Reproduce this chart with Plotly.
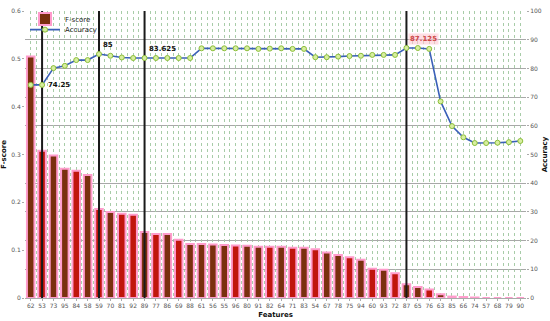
import plotly.graph_objects as go

features = ["62", "53", "73", "95", "84", "58", "59", "70", "81", "92", "89",
            "77", "86", "69", "88", "61", "56", "55", "96", "80", "91", "82",
            "64", "71", "83", "54", "67", "78", "75", "94", "60", "93", "72",
            "87", "65", "76", "63", "85", "66", "74", "57", "68", "79", "90"]

fscore = [0.505, 0.308, 0.298, 0.270, 0.266, 0.257, 0.186, 0.180, 0.176, 0.174, 0.138,
          0.134, 0.134, 0.122, 0.113, 0.113, 0.112, 0.111, 0.110, 0.109, 0.107, 0.107,
          0.107, 0.105, 0.105, 0.102, 0.095, 0.090, 0.085, 0.080, 0.061, 0.059, 0.052,
          0.029, 0.023, 0.018, 0.008, 0.003, 0.002, 0.001, 0.0, 0.0, 0.0, 0.0]

accuracy = [74.25, 74.25, 80.1, 80.9, 82.9, 82.9, 85, 84.4, 83.8, 83.625, 83.625,
            83.625, 83.625, 83.625, 83.625, 87.0, 87.0, 87.0, 87.0, 87.0, 86.8, 86.9,
            87.0, 86.8, 86.8, 83.9, 83.9, 84.1, 84.3, 84.4, 84.7, 84.7, 84.7,
            87.125, 87.1, 86.8, 68.5, 59.9, 56.0, 54.0, 54.0, 54.1, 54.3, 54.7]

marked = ["53", "59", "89", "87"]

BROWN = "#7a300e"
RED = "#c0160c"
bar_cols = [BROWN, RED, BROWN, BROWN, RED, BROWN, RED, BROWN, RED, RED, BROWN,
            RED, BROWN, RED, BROWN, BROWN, BROWN, BROWN, RED, BROWN, BROWN, RED,
            BROWN, RED, BROWN, RED, BROWN, BROWN, RED, BROWN, RED, BROWN, RED,
            BROWN, BROWN, RED, BROWN, BROWN, BROWN, BROWN, BROWN, BROWN, BROWN, BROWN]

pos = list(range(len(features)))
F_RANGE = [0, 0.6]

fig = go.Figure()
fig.add_trace(go.Bar(
    x=pos, y=fscore, name="F-score", yaxis="y", legend="legend",
    marker=dict(color=bar_cols, line=dict(color="#ff9ccc", width=2)),
    width=0.66,
))

# black marker lines at the selected features
vx, vy = [], []
for f in marked:
    i = features.index(f)
    vx += [i, i, None]
    vy += [F_RANGE[0], F_RANGE[1], None]
fig.add_trace(go.Scatter(x=vx, y=vy, mode="lines", yaxis="y",
                         line=dict(color="#1a1a1a", width=2), showlegend=False,
                         hoverinfo="skip"))

fig.add_trace(go.Scatter(
    x=pos, y=accuracy, name="Accuracy", yaxis="y2", mode="lines+markers",
    legend="legend2",
    line=dict(color="#3a5fb8", width=1.6),
    marker=dict(size=5, color="#d8eea0", line=dict(color="#8cbf3a", width=1)),
))

for f in marked:
    i = features.index(f)
    a = accuracy[i]
    red = f == "87"
    fig.add_annotation(
        x=i, y=a, yref="y2", text=f"<b>{a:g}</b>", showarrow=False,
        xanchor="left", yanchor="middle" if f == "53" else "bottom",
        xshift=4 if f == "53" else 2, yshift=0 if f == "53" else 3,
        font=dict(family="DejaVu Sans", size=7, color="#d04848" if red else "#111"),
        bgcolor="rgba(255,200,210,0.6)" if red else None,
    )

leg = dict(xanchor="left", yanchor="middle", bgcolor="rgba(255,255,255,0)",
           font=dict(size=7, color="#222"), itemwidth=30, borderwidth=0)

fig.update_layout(
    width=550, height=321,
    margin=dict(l=25, r=24, t=5, b=23),
    plot_bgcolor="white", paper_bgcolor="white",
    font=dict(family="DejaVu Sans", size=6, color="#555"),
    showlegend=True,
    legend=dict(leg, x=0.0, y=0.972),
    legend2=dict(leg, x=0.0, y=0.935),
    xaxis=dict(
        tickmode="array", tickvals=pos, ticktext=features,
        range=[-0.5, len(features) - 0.5], automargin=False,
        showgrid=True, gridcolor="#a8cca8", griddash="dot", gridwidth=1,
        minor=dict(tick0=0.5, dtick=1, showgrid=True, gridcolor="#a8cca8",
                   griddash="dot", gridwidth=1),
        ticks="outside", ticklen=2, tickcolor="#aaa",
        showline=True, linecolor="#aaa",
        title=dict(text="<b>Features</b>", font=dict(size=7, color="#111"), standoff=3),
        zeroline=False,
    ),
    yaxis=dict(
        range=F_RANGE, dtick=0.1, showgrid=False, automargin=False,
        minor=dict(tick0=0, dtick=0.06, showgrid=True, gridcolor="#a8a8a8", gridwidth=1),
        ticks="outside", ticklen=2, tickcolor="#aaa",
        title=dict(text="<b>F-score</b>", font=dict(size=7, color="#111"), standoff=3),
        zeroline=False,
    ),
    yaxis2=dict(
        range=[0, 100], dtick=10, overlaying="y", side="right", showgrid=False,
        automargin=False,
        ticks="outside", ticklen=2, tickcolor="#aaa",
        title=dict(text="<b>Accuracy</b>", font=dict(size=7, color="#111"), standoff=1),
        zeroline=False,
    ),
)

fig.write_html("out.html", config={"displayModeBar": False},
               post_script="document.body.style.margin='0';")
